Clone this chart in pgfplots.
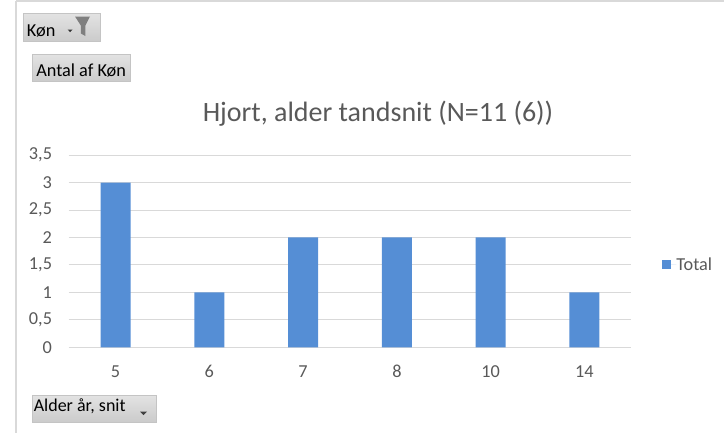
\documentclass[border=0pt]{standalone}
\usepackage{pgfplots}
\pgfplotsset{compat=1.18}
\usepackage{fontspec}
\setmainfont{Carlito}
\definecolor{barblue}{HTML}{558ED5}
\definecolor{gridgray}{HTML}{D9D9D9}
\definecolor{txtgray}{HTML}{595959}
\definecolor{btntop}{HTML}{E3E3E3}
\definecolor{btnbot}{HTML}{CBCBCB}
\definecolor{btnedge}{HTML}{C4C4C4}
\definecolor{icongray}{HTML}{7F7F7F}
\begin{document}
\begin{tikzpicture}
\begin{scope}[x=0.75pt,y=-0.75pt]
\path[use as bounding box] (0,0) rectangle (724,433);
% frame
\draw[gridgray,line width=1.5pt] (16,1) -- (724,1);
\draw[gridgray,line width=0.9pt] (16,1) -- (16,433);
% buttons
\shade[top color=btntop,bottom color=btnbot,draw=btnedge,line width=0.5pt] (23,13) rectangle (100,41);
\node[anchor=base west,inner sep=0pt,font=\fontsize{13.7pt}{16pt}\selectfont] at (26.7,36.5) {Køn};
\fill[black!80] (67.7,29.5) -- (72.5,29.5) -- (70.1,32.2) -- cycle;
\fill[icongray] (75,16.5) -- (90,16.5) -- (85.4,25.5) -- (85.4,36) -- (80.8,33.5) -- (80.8,25.5) -- cycle;
\shade[top color=btntop,bottom color=btnbot,draw=btnedge,line width=0.5pt] (32,54) rectangle (130,81);
\node[anchor=base west,inner sep=0pt,font=\fontsize{13.7pt}{16pt}\selectfont] at (36,76) {Antal af Køn};
\shade[top color=btntop,bottom color=btnbot,draw=btnedge,line width=0.5pt] (32,395) rectangle (156,422);
\node[anchor=base west,inner sep=0pt,font=\fontsize{13.5pt}{16pt}\selectfont] at (33.5,411.7) {Alder år, snit};
\fill[black!75] (140,411.5) -- (147,411.5) -- (143.5,415) -- cycle;
% title
\node[anchor=base,inner sep=0pt,text=txtgray,font=\fontsize{21pt}{25pt}\selectfont] at (378,121.7) {Hjort, alder tandsnit (N=11 (6))};
\end{scope}
\begin{axis}[
  at={(51.5pt,-260.5pt)}, anchor=south west,
  scale only axis, width=422pt, height=144.2pt,
  xmin=-0.5, xmax=5.5, ymin=0, ymax=3.5,
  enlargelimits=false,
  axis line style={draw=none},
  major tick length=0pt,
  tick style={draw=none},
  ymajorgrids, grid style={gridgray,line width=0.75pt},
  xtick={0,1,2,3,4,5},
  xticklabels={5,6,7,8,10,14},
  ytick={0,0.5,1,1.5,2,2.5,3,3.5},
  yticklabels={0,{0,5},1,{1,5},2,{2,5},3,{3,5}},
  /pgf/number format/assume math mode=true,
  xticklabel style={anchor=north,inner sep=0pt,yshift=-13.3pt,text=txtgray,font=\fontsize{13.7pt}{16pt}\selectfont},
  yticklabel style={anchor=east,inner sep=0pt,xshift=-12.3pt,text=txtgray,font=\fontsize{13.7pt}{16pt}\selectfont},
  legend style={at={(1.055,0.4295)},anchor=west,draw=none,fill=none,inner sep=0pt,outer sep=0pt,
    nodes={inner sep=0pt,text=txtgray,font=\fontsize{13.7pt}{16pt}\selectfont}},
  legend image code/.code={\path (0pt,0pt) -- (10.6pt,0pt);\fill[barblue] (0pt,-3.4pt) rectangle (6.8pt,3.4pt);},
]
\addplot[ybar,bar width=22.5pt,fill=barblue,draw=none] coordinates {(0,3) (1,1) (2,2) (3,2) (4,2) (5,1)};
\addlegendentry{Total}
\end{axis}
\end{tikzpicture}
\end{document}
